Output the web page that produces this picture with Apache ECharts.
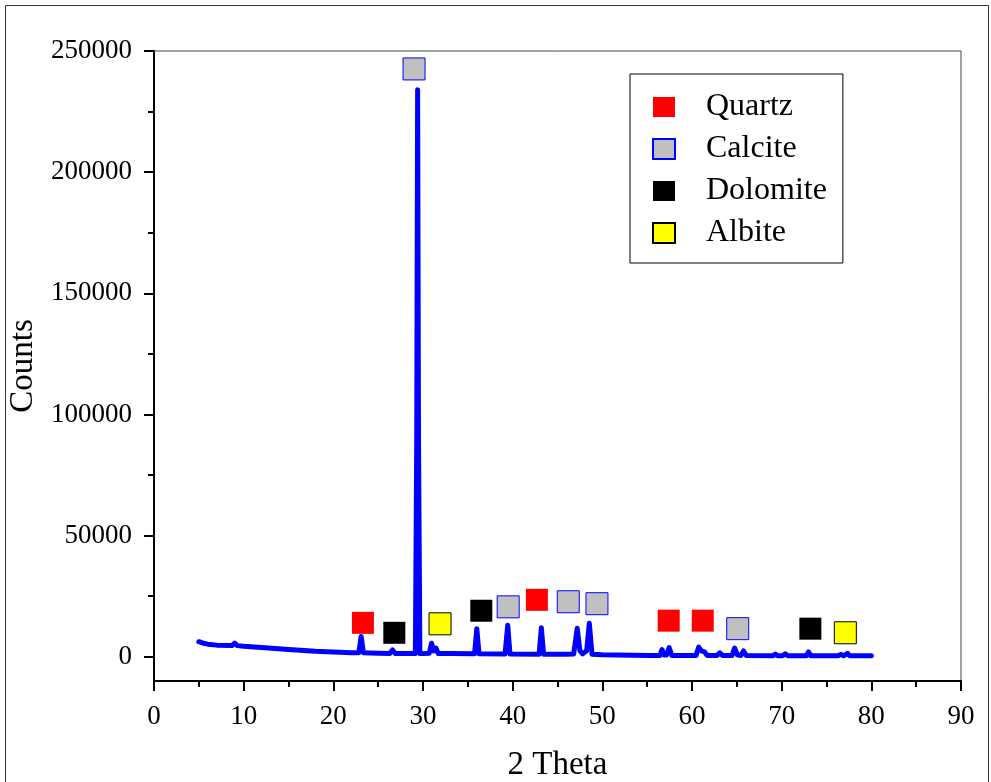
<!DOCTYPE html>
<html>
<head>
<meta charset="utf-8">
<script src="https://cdn.jsdelivr.net/npm/echarts@6/dist/echarts.min.js"></script>
<style>
  html, body { margin: 0; padding: 0; background: #fff; }
  #xrd-chart { width: 991px; height: 782px; }
</style>
</head>
<body>
<div id="xrd-chart"></div>
<script>
// diffraction pattern
const twoTheta = [
  5.0, 5.5, 6.0, 7.0, 8.7, 9.0, 9.3, 10.0, 12.0, 15.0, 18.0, 20.0, 22.0,
  22.85, 23.1, 23.35, 25.0, 26.3, 26.6, 26.9, 28.0,
  29.15, 29.3, 29.4, 29.5, 29.65, 30.0, 30.7, 30.95, 31.2, 31.45, 31.7, 33.0,
  35.75, 36.0, 36.25, 39.15, 39.45, 39.7, 42.95, 43.2, 43.45, 46.0,
  46.8, 47.2, 47.5, 47.8, 48.25, 48.55, 48.85, 50.0, 55.0,
  56.4, 56.65, 56.9, 57.15, 57.45, 57.75, 60.0,
  60.45, 60.75, 61.05, 61.4, 61.7, 62.8, 63.1, 63.4, 64.45, 64.75, 65.05,
  65.45, 65.75, 66.05, 69.0, 69.3, 69.6, 70.1, 70.4, 70.7,
  72.75, 73.0, 73.25, 76.3, 76.6, 76.9, 77.1, 77.35, 77.6, 80.0
];
const counts = [
  6200, 5600, 5200, 4800, 4600, 5600, 4600, 4300, 3800, 3000, 2300, 2000, 1700,
  1700, 8400, 1700, 1500, 1400, 2800, 1400, 1300,
  1300, 90000, 234000, 90000, 1300, 1300, 1500, 5600, 2400, 3600, 1300, 1300,
  1200, 11600, 1200, 1100, 13000, 1100, 1000, 12000, 1000, 1000,
  1100, 11800, 2500, 1200, 2500, 13800, 1000, 800, 500,
  500, 3000, 700, 700, 3800, 500, 500,
  500, 4000, 2400, 2000, 500, 500, 1600, 500, 500, 3600, 800,
  500, 2400, 500, 400, 1100, 400, 400, 1200, 400,
  400, 2000, 400, 400, 1000, 400, 400, 1400, 400, 400
];

// phase markers [2θ, counts]
const quartz = [[23.3, 14000], [42.7, 23500], [57.4, 14900], [61.2, 14900]];
const calcite = [[29.0, 242600], [39.5, 20600], [46.2, 22700], [49.4, 21900], [65.1, 11600]];
const dolomite = [[26.8, 9900], [36.5, 19000], [73.2, 11600]];
const albite = [[31.9, 13600], [77.1, 9900]];

const xTicks = [0, 90, 10];
const yRange = [-10000, 250000];
const yMajor = [0, 50000, 100000, 150000, 200000, 250000];
const yMinor = [25000, 75000, 125000, 175000, 225000];

const serif = '"Liberation Serif", "Times New Roman", serif';

const chart = echarts.init(document.getElementById('xrd-chart'));

const marker = (name, data, color, border) => ({
  name,
  type: 'scatter',
  data,
  symbol: 'rect',
  symbolSize: 22,
  z: 3,
  itemStyle: {
    color,
    opacity: 1,
    borderColor: border || color,
    borderWidth: border ? 1 : 0
  }
});

chart.setOption({
  animation: false,
  backgroundColor: '#fff',
  textStyle: { fontFamily: serif, color: '#000' },
  graphic: [{
    type: 'rect',
    shape: { x: 5.5, y: 5.5, width: 983, height: 800 },
    style: { fill: 'none', stroke: '#333', lineWidth: 1 },
    silent: true
  }],
  grid: {
    left: 154,
    right: 30,
    top: 51,
    bottom: 101,
    outerBoundsMode: 'none',
    containLabel: false,
    show: true,
    borderColor: '#444',
    borderWidth: 1
  },
  legend: {
    orient: 'vertical',
    left: 630,
    top: 74,
    padding: [17, 16, 14, 22],
    itemGap: 10,
    itemWidth: 22,
    itemHeight: 20,
    icon: 'rect',
    borderColor: '#000',
    borderWidth: 1,
    data: ['Quartz', 'Calcite', 'Dolomite', 'Albite'],
    textStyle: {
      fontFamily: serif,
      fontSize: 32,
      lineHeight: 32,
      color: '#000',
      padding: [0, 0, 0, 26]
    }
  },
  xAxis: {
    type: 'value',
    min: xTicks[0],
    max: xTicks[1],
    interval: xTicks[2],
    name: '2 Theta',
    nameLocation: 'middle',
    nameGap: 68,
    nameTextStyle: { fontFamily: serif, fontSize: 33, color: '#000' },
    splitLine: { show: false },
    axisLine: { onZero: false, lineStyle: { color: '#000', width: 2 } },
    axisTick: { inside: false, length: 10, lineStyle: { color: '#000', width: 2 } },
    minorTick: { show: true, splitNumber: 2, length: 6, lineStyle: { color: '#000', width: 2 } },
    axisLabel: { fontFamily: serif, fontSize: 27, color: '#000', margin: 22 }
  },
  yAxis: [
    {
      type: 'value',
      min: yRange[0],
      max: yRange[1],
      name: 'Counts',
      nameLocation: 'middle',
      nameGap: 114,
      nameTextStyle: { fontFamily: serif, fontSize: 33, color: '#000' },
      splitLine: { show: false },
      axisLine: { onZero: false, lineStyle: { color: '#000', width: 2 } },
      axisTick: {
        inside: false,
        length: 10,
        customValues: yMajor,
        lineStyle: { color: '#000', width: 2 }
      },
      axisLabel: {
        fontFamily: serif,
        fontSize: 27,
        color: '#000',
        margin: 22,
        customValues: yMajor,
        formatter: (v) => String(v)
      }
    },
    {
      // minor ticks only
      type: 'value',
      position: 'left',
      min: yRange[0],
      max: yRange[1],
      splitLine: { show: false },
      axisLine: { show: false, onZero: false },
      axisLabel: { show: false },
      axisTick: {
        inside: false,
        length: 6,
        customValues: yMinor,
        lineStyle: { color: '#000', width: 2 }
      }
    }
  ],
  series: [
    {
      name: 'XRD',
      type: 'line',
      data: twoTheta.map((t, i) => [t, counts[i]]),
      showSymbol: false,
      z: 2,
      lineStyle: { color: '#0000ff', width: 5, join: 'round', cap: 'round' }
    },
    marker('Quartz', quartz, '#ff0000'),
    marker('Calcite', calcite, '#c0c0c0', '#0000ff'),
    marker('Dolomite', dolomite, '#000000'),
    marker('Albite', albite, '#ffff00', '#000000')
  ]
});
</script>
</body>
</html>
